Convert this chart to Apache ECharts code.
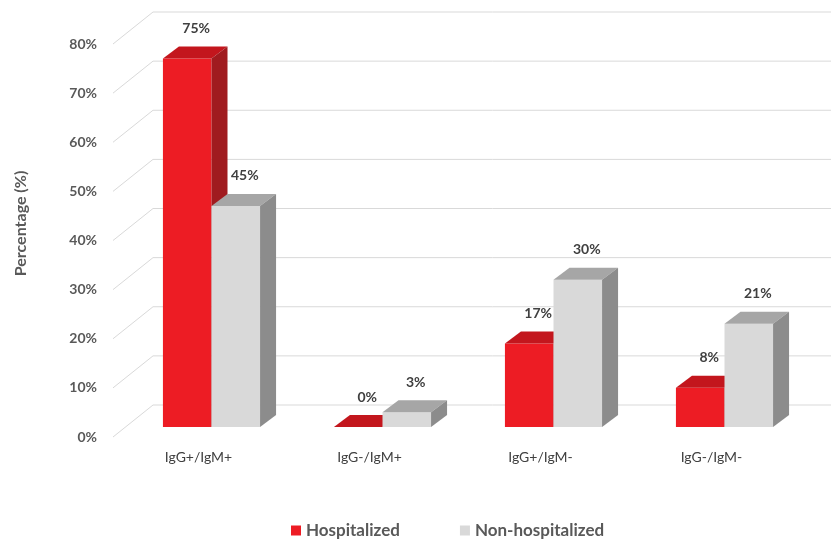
<!DOCTYPE html>
<html>
<head>
<meta charset="utf-8">
<script src="https://cdn.jsdelivr.net/npm/echarts@6/dist/echarts.min.js"></script>
<style>html,body{margin:0;padding:0;background:#fff}#c{width:831px;height:540px}</style>
</head>
<body>
<div id="c"></div>
<script>
const categories = ['IgG+/IgM+', 'IgG-/IgM+', 'IgG+/IgM-', 'IgG-/IgM-'];
const hospitalized = [75, 0, 17, 8];
const nonHospitalized = [45, 3, 30, 21];
const yTicks = [0, 10, 20, 30, 40, 50, 60, 70, 80];
const seriesNames = ['Hospitalized', 'Non-hospitalized'];

const FONT = 'Lato, "Open Sans", sans-serif';
// 3D projection offsets (pixels)
const WALL = [40, -32];   // front plane -> back wall
const BARF = [13, -10];   // front plane -> bar front faces
const DEPTH = [16, -12];  // bar depth
const COLORS = [
  {front: '#ED1C24', top: '#C3161D', side: '#A01B1F'},
  {front: '#D9D9D9', top: '#A6A6A6', side: '#8C8C8C'}
];

function wallRender(params, api) {
  const cs = params.coordSys;
  const v = api.value(1);
  const p = api.coord([0, v]);
  const y = p[1];
  const x0 = cs.x, xb = cs.x + WALL[0], yb = y + WALL[1];
  const style = {stroke: '#D9D9D9', lineWidth: 1};
  return {
    type: 'group',
    children: [
      {type: 'line', shape: {x1: x0, y1: y, x2: xb, y2: yb}, style: style},
      {type: 'line', shape: {x1: xb, y1: yb, x2: cs.x + cs.width + WALL[0] + 10, y2: yb}, style: style}
    ]
  };
}

function barRender(si) {
  return function (params, api) {
    const cat = api.value(0), v = api.value(1);
    const base = api.coord([cat, 0]);
    const topP = api.coord([cat, v]);
    const band = api.size([1, 0])[0];
    const bw = band * 0.284;
    const cx = base[0] + BARF[0];
    const x0 = si === 0 ? cx - bw : cx;
    const x1 = x0 + bw;
    const yb = base[1] + BARF[1];
    const yt = topP[1] + BARF[1];
    const dx = DEPTH[0], dy = DEPTH[1];
    const c = COLORS[si];
    const children = [];
    if (yb - yt > 0.5) {
      children.push({type: 'rect', shape: {x: x0, y: yt, width: bw, height: yb - yt}, style: {fill: c.front}});
    }
    children.push({type: 'polygon', shape: {points: [[x0, yt], [x1, yt], [x1 + dx, yt + dy], [x0 + dx, yt + dy]]}, style: {fill: c.top}});
    children.push({type: 'polygon', shape: {points: [[x1, yt], [x1 + dx, yt + dy], [x1 + dx, yb + dy], [x1, yb]]}, style: {fill: c.side}});
    children.push({type: 'text', style: {
      text: v + '%', x: (x0 + x1) / 2 + 9, y: yt - 30,
      align: 'center', verticalAlign: 'middle',
      fill: '#404040', font: 'bold 14px ' + FONT
    }});
    return {type: 'group', children: children};
  };
}

const chart = echarts.init(document.getElementById('c'), null, {renderer: 'canvas'});
chart.setOption({
  backgroundColor: '#ffffff',
  animation: false,
  grid: {left: 113, top: 44, width: 684, height: 393},
  legend: {
    data: seriesNames,
    left: 286, top: 517,
    itemWidth: 10, itemHeight: 10, itemGap: 60,
    icon: 'rect',
    textStyle: {fontFamily: FONT, fontSize: 17, fontWeight: 'bold', color: '#595959'}
  },
  xAxis: {
    type: 'category', data: categories,
    axisLine: {show: false}, axisTick: {show: false}, splitLine: {show: false},
    axisLabel: {margin: 13, fontFamily: FONT, fontSize: 14, color: '#404040'}
  },
  yAxis: {
    type: 'value', min: 0, max: 80, interval: 10,
    name: 'Percentage (%)', nameLocation: 'middle', nameRotate: 90, nameGap: 84,
    nameTextStyle: {fontFamily: FONT, fontSize: 16, fontWeight: 'bold', color: '#595959', padding: [0, 0, 0, 34]},
    axisLine: {show: false}, axisTick: {show: false}, splitLine: {show: false},
    axisLabel: {margin: 16, formatter: '{value}%', fontFamily: FONT, fontSize: 14, fontWeight: 'bold', color: '#595959'}
  },
  series: [
    {
      type: 'custom', name: 'wall', z: 1, silent: true,
      renderItem: wallRender,
      data: yTicks.map(t => [0, t]),
      encode: {x: 0, y: 1}
    },
    {
      type: 'custom', name: seriesNames[0], z: 2,
      itemStyle: {color: COLORS[0].front},
      renderItem: barRender(0),
      data: hospitalized.map((v, i) => [i, v]),
      encode: {x: 0, y: 1}
    },
    {
      type: 'custom', name: seriesNames[1], z: 3,
      itemStyle: {color: COLORS[1].front},
      renderItem: barRender(1),
      data: nonHospitalized.map((v, i) => [i, v]),
      encode: {x: 0, y: 1}
    }
  ]
});
</script>
</body>
</html>
